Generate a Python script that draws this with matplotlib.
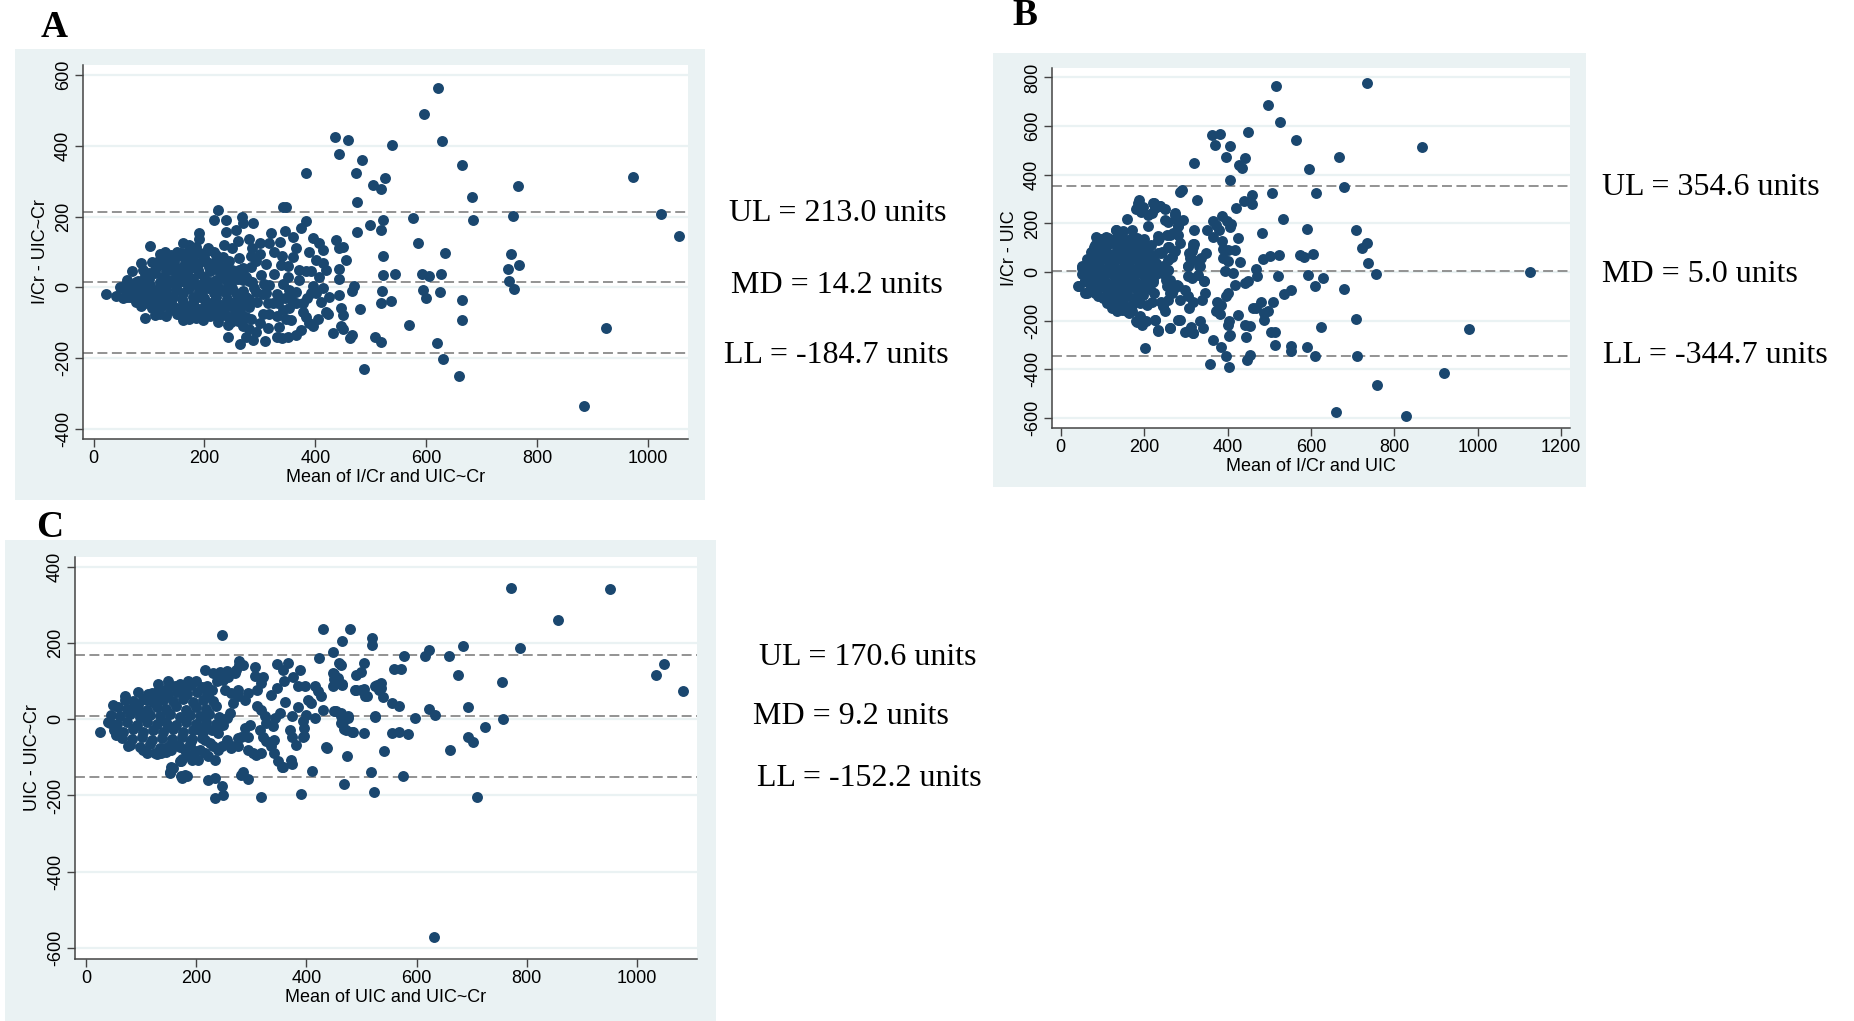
import numpy as np
import matplotlib.pyplot as plt
from matplotlib.patches import Rectangle

plt.rcParams['font.family'] = ['Liberation Sans', 'DejaVu Sans']
plt.rcParams['axes.unicode_minus'] = False

# ---- data: (mean, difference) per panel ----
pts_a = [
    (23,-19),(41,-25),(56,6),(59,-8),(77,16),(92,32),(101,117),(92,-86),(110,68),(128,101),
    (161,124),(173,119),(191,154),(191,138),(206,110),(224,218),(218,190),(239,189),(239,157),(257,162),
    (268,199),(269,181),(287,183),(281,138),(300,126),(320,154),(317,124),(336,128),(341,226),(347,228),
    (359,143),(374,167),(383,188),(383,322),(388,100),(407,124),(413,107),(263,82),(248,44),(262,44),
    (284,88),(293,74),(311,65),(284,58),(317,7),(311,-17),(326,39),(338,63),(341,11),(350,30),
    (353,-8),(356,-32),(365,-12),(371,49),(383,47),(392,47),(401,77),(413,68),(419,49),(407,30),
    (413,-3),(401,-17),(392,-17),(425,-26),(419,-69),(422,-74),(377,-69),(383,-83),(389,-100),(374,-119),
    (365,-45),(377,-45),(353,-59),(341,-64),(347,-88),(335,-111),(340,-144),(350,-139),(356,-92),(314,-45),
    (323,-43),(332,-45),(305,-74),(317,-74),(293,-12),(308,11),(302,35),(281,-55),(284,-88),(281,-116),
    (293,-125),(287,-149),(275,-83),(266,-74),(269,-37),(248,-97),(242,-107),(242,-139),(224,-97),(227,-83),
    (197,-92),(233,-69),(221,-55),(209,-45),(254,-45),(257,-17),(275,-26),(269,20),(275,30),(263,49),
    (245,7),(233,30),(224,49),(215,68),(233,87),(218,101),(209,107),(209,58),(191,96),(173,82),
    (158,96),(146,82),(134,82),(119,79),(110,49),(95,21),(83,2),(71,-17),(65,-26),(77,-40),
    (92,-45),(107,-55),(119,-74),(137,-64),(158,-78),(161,-92),(173,-88),(188,-64),(179,-45),(161,-40),
    (143,-26),(131,-8),(119,2),(107,-17),(95,-12),(86,-22),(125,30),(143,49),(161,58),(179,77),
    (188,49),(173,30),(155,16),(140,16),(173,-3),(191,7),(200,30),(206,-3),(218,-17),(200,-31),
    (188,-26),(161,-17),(149,-8),(131,-43),(113,-40),(101,6),(53,-31),(47,2),(65,11),(77,-3),
    (134,-50),(146,-55),(182,-64),(206,-74),(218,-41),(245,-41),(239,-17),(227,-3),
    (100,40),(115,60),(130,55),(145,65),(160,40),(175,55),(190,70),(200,85),(150,100),(170,100),
    (185,115),(125,-20),(140,-40),(155,-60),(170,-70),(185,-85),(200,-55),(215,-65),(230,-50),(240,-80),
    (255,-65),(120,-55),(105,-35),(90,-30),(80,-10),(70,5),(100,-5),(115,-10),(130,20),(150,35),
    (165,15),(180,10),(195,-10),(210,15),(225,20),(240,60),(255,25),(270,55),(285,15),(295,-40),
    (305,-20),(260,-95),(270,-110),(300,-100),(315,-115),(330,-80),(250,110),(235,120),(260,130),(285,110),
    (300,95),(325,100),(340,90),(350,60),(360,85),(365,110),(395,140),(345,160),(330,-20),(345,-30),
    (370,20),(385,-30),(395,5),(410,-40),(405,-90),(395,-110),(365,-135),(330,-140),(310,-150),(275,-140),
    (265,-160),
    (120,95),(140,92),(160,88),(180,93),(200,98),(220,92),
    (85,70),(105,72),(125,68),(145,74),(165,70),(185,66),(205,72),(225,68),(245,74),
    (70,45),(90,48),(110,42),(130,46),(150,44),(170,48),(190,42),(210,46),(230,44),(250,48),(270,42),
    (60,22),(80,18),(100,24),(120,16),(140,22),(160,18),(180,24),(200,16),(220,22),(240,18),(260,24),(280,18),
    (50,-3),(70,-7),(90,-1),(110,-9),(130,-3),(150,-7),(170,-1),(190,-9),(210,-3),(230,-7),(250,-1),(270,-9),(290,-3),
    (60,-28),(80,-32),(100,-26),(120,-34),(140,-28),(160,-32),(180,-26),(200,-34),(220,-28),(240,-32),(260,-26),(280,-34),
    (85,-53),(105,-57),(125,-51),(145,-59),(165,-53),(185,-57),(205,-51),(225,-59),(245,-53),(265,-57),
    (110,-78),(130,-82),(150,-76),(170,-84),(190,-78),(210,-82),(230,-76),(250,-84),
    (622,563),(596,489),(436,424),(458,416),(628,414),(539,402),(442,376),(485,361),(473,322),(665,345),
    (525,308),(504,288),(519,277),(973,311),(765,285),(683,255),(476,241),(1024,206),(757,202),(576,195),
    (685,189),(522,190),(499,175),(519,162),(476,156),(1055,146),(586,124),(633,98),(522,88),(753,93),
    (767,62),(748,51),(593,37),(605,33),(626,38),(543,37),(522,35),(750,18),(759,-5),(595,-8),
    (599,-29),(625,-14),(521,-10),(537,-38),(519,-44),(664,-36),(664,-93),(569,-106),(925,-114),(620,-157),
    (507,-139),(519,-154),(631,-203),(488,-231),(659,-251),(885,-335),(480,-60),(466,-9),(469,4),(456,77),
    (442,111),(450,113),(437,134),(442,51),(442,23),(443,-21),(446,-59),(450,-78),(446,-110),(450,-116),
    (432,-130),(462,-142),(466,-135),
]

pts_b = [
    (735,777),(516,766),(496,685),(525,615),(448,577),(363,564),(382,566),(370,521),(405,519),(565,541),
    (866,514),(667,473),(397,473),(442,468),(319,448),(428,441),(435,427),(595,423),(405,379),(679,351),
    (507,327),(613,326),(285,330),(291,338),(326,297),(458,315),(440,293),(458,279),(421,263),(534,220),
    (386,229),(709,172),(590,178),(482,160),(723,97),(735,119),(737,37),(573,71),(584,64),(605,74),
    (501,68),(523,70),(484,53),(1124,-1),(757,-8),(594,-14),(521,-16),(628,-26),(610,-59),(678,-71),
    (553,-75),(535,-89),(480,-123),(510,-121),(709,-193),(625,-226),(980,-233),(504,-245),(513,-247),(513,-299),
    (551,-302),(552,-326),(591,-307),(610,-347),(710,-347),(920,-413),(758,-463),(660,-576),(828,-593),(453,-340),
    (446,-363),(404,-389),(359,-379),(396,-345),(385,-307),(364,-278),(403,-264),(405,-258),(445,-267),(453,-223),
    (441,-216),(425,-175),(403,-203),(401,-216),(342,-230),(318,-251),(304,-244),(333,-203),(263,-230),(234,-244),
    (203,-312),(461,-148),(469,-148),(498,-158),(487,-169),(488,-196),(441,-45),(450,-38),(467,12),(470,-15),
    (429,40),(394,3),(390,58),(401,44),(413,-4),(417,-52),(401,-86),(395,-100),(375,-121),(384,-134),
    (373,-162),(381,-171),(425,140),(418,92),(402,89),(399,208),(409,199),(405,185),(365,211),(373,192),
    (380,174),(364,144),(386,126),(388,96),(351,174),(349,78),(337,58),(320,174),(316,105),(320,115),
    (308,78),(318,51),(305,23),(332,23),(344,-38),(346,-86),(339,-114),(316,-121),(308,-148),(285,-196),
    (278,-52),(270,-73),(261,-86),(252,-32),(257,7),(267,64),(259,105),(270,160),(280,188),(292,215),
    (274,236),(251,259),(237,270),(223,286),(210,236),(187,297),(180,259),(192,247),(232,147),(234,133),
    (240,78),(228,37),(232,23),(244,23),(220,-34),(223,-86),(240,-121),(245,-141),(251,-162),(227,-196),
    (194,-216),(180,-203),(164,-168),(147,-155),(128,-127),(109,-107),(81,-86),(62,-86),(43,-59),(57,-38),
    (52,23),(66,37),(85,144),(80,103),(109,144),(133,174),(158,218),
    (106,140),(182,263),(186,286),(198,267),(222,284),(226,263),(238,273),(218,242),(208,190),(250,215),
    (258,204),(273,242),(278,215),(282,190),(282,153),(286,119),(274,88),(258,105),(262,153),(254,153),
    (236,140),(233,78),(242,81),(214,23),(210,-7),(226,23),(242,-4),(258,10),(258,51),(262,-32),
    (254,-59),(266,-86),(258,-114),(246,-141),(218,-121),(206,-134),(226,-196),(234,-240),(262,-230),(282,-196),
    (298,-247),(317,-251),(312,-226),(286,-114),(306,-100),(298,-73),(282,-59),(314,-25),(306,-18),(330,-11),
    (344,-38),(334,23),(316,115),(314,85),(310,58),(306,23),(205,-203),(182,-205),(158,-162),(122,-148),
    (102,-107),(82,-79),(58,-86),(42,-59),(52,16),(66,51),(78,78),(150,-141),(170,-162),(190,-182),
    (132,172),(150,168),(170,175),(96,138),(114,142),(130,136),(148,144),(166,138),(184,141),(200,135),
    (82,112),(98,108),(116,114),(134,106),(150,112),(168,108),(186,113),(204,106),(216,110),
    (72,82),(90,78),(108,84),(126,76),(142,82),(160,80),(178,76),(196,84),(212,78),
    (64,52),(80,48),(98,54),(116,46),(134,52),(152,48),(170,54),(188,46),(206,52),(222,48),
    (56,22),(74,18),(92,24),(110,16),(128,22),(146,18),(164,24),(182,16),(200,22),(216,18),
    (50,-8),(68,-12),(86,-6),(104,-14),(122,-8),(140,-12),(158,-6),(176,-14),(194,-8),(212,-12),(228,-6),
    (58,-38),(76,-42),(94,-36),(112,-44),(130,-38),(148,-42),(166,-36),(184,-44),(202,-38),(220,-42),
    (70,-68),(88,-72),(106,-66),(124,-74),(142,-68),(160,-72),(178,-66),(196,-74),(214,-68),
    (90,-98),(108,-102),(126,-96),(144,-104),(162,-98),(180,-102),(198,-96),
    (110,-128),(130,-132),(150,-126),(170,-134),(190,-128),(135,-158),(160,-162),
]

pts_c = [
    (772,346),(951,343),(857,261),(430,238),(479,238),(246,223),(519,214),(519,196),(464,205),(684,192),
    (787,188),(622,183),(616,168),(658,168),(577,166),(422,161),(449,178),(459,148),(462,142),(504,148),
    (1049,146),(1035,118),(676,118),(559,133),(571,133),(490,118),(500,124),(450,120),(450,106),(465,93),
    (755,98),(536,96),(536,83),(529,91),(539,60),(510,61),(490,78),(504,81),(1084,75),(694,33),
    (556,43),(569,36),(623,27),(634,12),(597,4),(756,1),(525,5),(454,21),(462,17),(475,4),
    (467,-7),(471,-27),(485,-33),(504,-36),(555,-36),(568,-33),(584,-38),(725,-20),(693,-47),(703,-59),
    (661,-81),(540,-82),(473,-97),(438,-74),(518,-139),(576,-150),(468,-170),(523,-190),(709,-205),(631,-573),
    (410,-135),(415,4),(421,74),(427,61),(403,52),(409,44),(430,25),(448,122),(457,109),(448,89),
    (464,91),(488,78),(500,78),(506,61),(451,21),(463,8),(476,8),(463,-10),(469,-25),(482,-34),
    (524,8),(524,87),(530,89),(531,78),(436,-73),(415,89),
    (25,-32),(49,39),(70,62),(43,-10),(55,-40),(77,-71),(104,-80),(125,-88),(137,-88),(152,-137),
    (155,-124),(173,-150),(179,-146),(172,-110),(197,-84),(206,-80),(222,-159),(234,-154),(234,-108),(246,-176),
    (234,-207),(249,-198),(282,-146),(285,-137),(294,-156),(317,-203),(265,-71),(276,-49),(282,-45),(294,-80),
    (303,-88),(309,-93),(318,-88),(342,-88),(349,-110),(358,-124),(373,-116),(390,-196),(372,-106),(355,-124),
    (395,-43),(395,-22),(216,131),(277,153),(285,144),(307,137),(321,111),(346,146),(366,148),(358,129),
    (376,111),(389,129),(359,100),(346,82),(335,65),(384,87),(397,87),(394,-4),(400,12),(373,10),
    (385,32),(352,18),(361,45),(343,4),(340,-18),(370,-27),(373,-45),(382,-67),(394,-45),(306,113),
    (318,96),(311,78),(294,69),(288,52),(311,34),(318,25),(324,8),(327,-10),(315,-27),(321,-45),
    (327,-58),(336,-71),(342,-54),(294,-45),(288,-23),(297,-14),(276,-71),(264,-75),(255,-54),(246,-71),
    (240,-80),(231,-71),(225,-62),(216,-54),(222,-97),(216,-89),(191,-58),(179,-80),(188,-97),(203,-106),
    (193,-106),(167,-67),(155,-80),(143,-76),(149,-18),(206,-27),(216,-18),(228,-27),(240,-36),(249,-14),
    (255,4),(261,17),(267,43),(276,61),(276,78),(264,69),(252,78),(237,100),(249,104),(258,111),
    (231,122),(244,124),(255,127),(270,122),(273,131),(277,144),(219,87),(228,78),(222,61),(200,100),
    (185,100),(179,78),(161,87),(149,100),(143,78),(131,61),(119,69),(110,52),(95,39),(86,26),
    (101,17),(174,-104),(171,-110),(157,-128),(153,-141),(183,-150),(174,-155),
    (130,92),(150,88),(170,94),(190,90),(210,86),
    (95,72),(112,68),(130,74),(148,68),(166,72),(184,66),(202,72),(220,68),
    (70,52),(86,48),(104,54),(122,46),(140,52),(158,48),(176,54),(194,46),(212,52),(230,48),
    (58,32),(74,28),(92,34),(110,26),(128,32),(146,28),(164,34),(182,26),(200,32),(218,28),(236,34),
    (46,12),(62,8),(80,14),(98,6),(116,12),(134,8),(152,14),(170,6),(188,12),(206,8),(224,14),(242,6),
    (40,-8),(56,-12),(74,-6),(92,-14),(110,-8),(128,-12),(146,-6),(164,-14),(182,-8),(200,-12),(218,-6),(236,-12),
    (50,-28),(68,-32),(86,-26),(104,-34),(122,-28),(140,-32),(158,-26),(176,-34),(194,-28),(212,-32),
    (66,-48),(84,-52),(102,-46),(120,-54),(138,-48),(156,-52),(174,-46),(192,-52),(210,-48),
    (80,-68),(98,-72),(116,-66),(134,-74),(152,-68),(170,-72),(188,-66),
    (110,-88),(128,-92),(146,-86),
]

# limits of agreement: upper, mean difference, lower
lim_a = [213.0, 14.2, -184.7]
lim_b = [354.6, 5.0, -344.7]
lim_c = [170.6, 9.2, -152.2]

xlab_a, ylab_a = "Mean of I/Cr and UIC~Cr", "I/Cr - UIC~Cr"
xlab_b, ylab_b = "Mean of I/Cr and UIC", "I/Cr - UIC"
xlab_c, ylab_c = "Mean of UIC and UIC~Cr", "UIC - UIC~Cr"

W, H = 1854, 1021
bg = '#eaf2f3'
navy = '#1a476f'

fig = plt.figure(figsize=(W / 100, H / 100), dpi=100)


def box(x0, y0, x1, y1):
    # pixel box (top-left origin) -> figure fraction rect
    return [x0 / W, 1 - y1 / H, (x1 - x0) / W, (y1 - y0) / H]


def panel(outer, inner, pts, lims, xlim, ylim, xt, yt, xlab, ylab, letter, lpos, tpos):
    r = box(*outer)
    fig.patches.append(Rectangle((r[0], r[1]), r[2], r[3], transform=fig.transFigure,
                                 facecolor=bg, edgecolor='none', zorder=-10))
    ax = fig.add_axes(box(*inner))
    ax.set_zorder(2)
    ax.set_facecolor('white')
    x, y = np.array(pts, dtype=float).T
    for t in yt:
        ax.axhline(t, color=bg, lw=1.6, zorder=1)
    for v in lims:
        ax.axhline(v, color='#8a8a8a', lw=1.3, dashes=(5.5, 2.5), zorder=2)
    ax.scatter(x, y, s=62, color=navy, linewidths=0, zorder=3)
    ax.set_xlim(xlim)
    ax.set_ylim(ylim)
    ax.set_xticks(xt)
    ax.set_yticks(yt)
    for s in ['top', 'right']:
        ax.spines[s].set_visible(False)
    for s in ['left', 'bottom']:
        ax.spines[s].set_color('#444444')
        ax.spines[s].set_linewidth(1.1)
    ax.tick_params(axis='both', color='#444444', length=6, width=1.0, direction='out')
    ax.tick_params(axis='x', labelsize=13, pad=2)
    ax.tick_params(axis='y', labelsize=13, pad=2, labelrotation=90)
    for lab in ax.get_yticklabels():
        lab.set_va('center')
    ax.set_xlabel(xlab, fontsize=13, labelpad=1)
    ax.set_ylabel(ylab, fontsize=13, labelpad=4)

    fig.text(lpos[0] / W, 1 - lpos[1] / H, letter, family='Liberation Serif',
             fontweight='bold', fontsize=27, ha='left', va='baseline')
    names = ['UL', 'MD', 'LL']
    for nm, v, (px, py) in zip(names, lims, tpos):
        fig.text(px / W, 1 - py / H, f"{nm} = {v:.1f} units", family='Liberation Serif',
                 fontsize=23, ha='left', va='baseline')
    return ax


panel((15, 49, 705, 500), (83, 65, 688, 439), pts_a, lim_a,
      (-19, 1072), (-428, 628), range(0, 1001, 200), range(-400, 601, 200),
      xlab_a, ylab_a, 'A', (41, 37), [(729, 221), (731, 293), (724, 363)])

panel((993, 53, 1586, 487), (1052, 68, 1570, 428), pts_b, lim_b,
      (-21, 1221), (-641, 839), range(0, 1201, 200), range(-600, 801, 200),
      xlab_b, ylab_b, 'B', (1012, 25), [(1602, 195), (1602, 282), (1603, 363)])

panel((5, 540, 716, 1021), (75, 557, 697, 959), pts_c, lim_c,
      (-20, 1109), (-630, 427), range(0, 1001, 200), range(-600, 401, 200),
      xlab_c, ylab_c, 'C', (36, 537), [(759, 665), (753, 724), (757, 786)])

fig.savefig('out.png', dpi=100, facecolor='white')
